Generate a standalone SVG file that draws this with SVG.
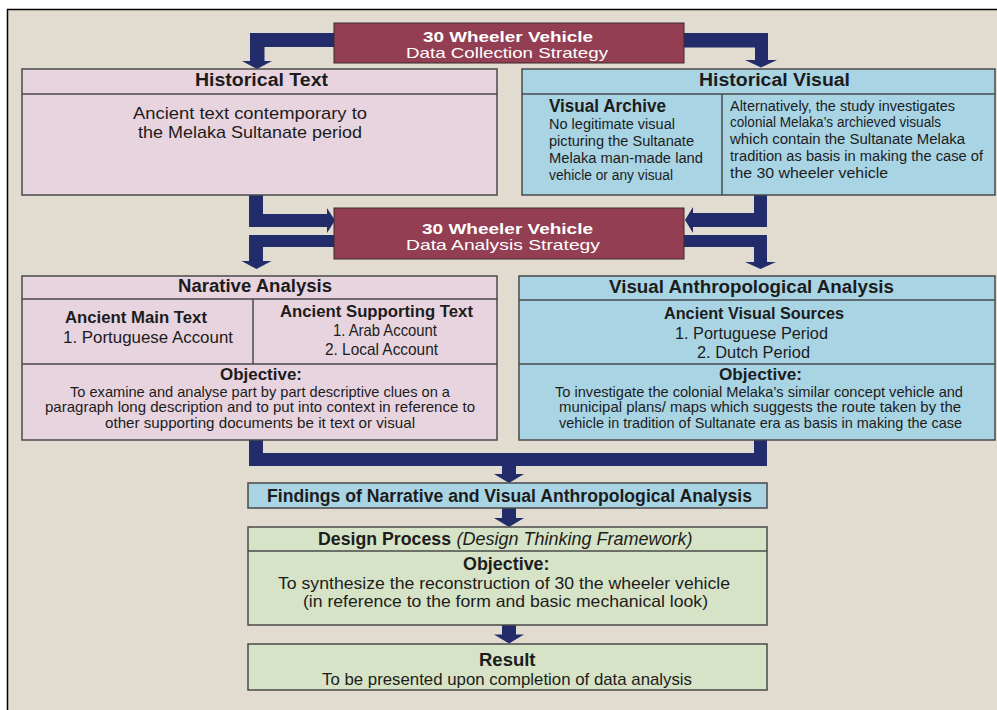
<svg xmlns="http://www.w3.org/2000/svg" width="997" height="710" viewBox="0 0 997 710">
<style>
text{font-family:"Liberation Sans",Arial,sans-serif;fill:#1c1c1c}
.b{font-weight:bold}
.i{font-style:italic}
.w{fill:#ffffff}
.pink{fill:#e8d4df;stroke:#4a4a4a;stroke-width:1.5}
.blue{fill:#a9d4e4;stroke:#4a4a4a;stroke-width:1.5}
.green{fill:#d7e3c6;stroke:#4a4a4a;stroke-width:1.5}
.maroon{fill:#933e52;stroke:#3a2a2e;stroke-width:1}
.sep{stroke:#4a4a4a;stroke-width:1.5;fill:none}
.arrow{fill:#232c6a}
</style>
<rect x="0" y="0" width="997" height="710" fill="#ffffff"/>
<rect x="7.5" y="9.5" width="1000" height="720" fill="#e2dbd0" stroke="#000000" stroke-width="1.5"/>

<g id="connectors">
  <polygon class="arrow" points="334,33 250,33 250,61 242,61 257,69 272,61 264.5,61 264.5,47 334,47"/>
  <polygon class="arrow" points="684,33 768,33 768,60 777,60 761,67.5 745,60 755,60 755,47.5 684,47.5"/>
  <polygon class="arrow" points="249,195 263,195 263,214 327,214 327,208 335,220.5 327,233 327,227 249,227"/>
  <polygon class="arrow" points="334,235 249,235 249,261 241.5,261 256.5,269 271.5,261 263,261 263,247 334,247"/>
  <polygon class="arrow" points="767,195 754,195 754,213 693,213 693,207 685,220 693,233 693,227 767,227"/>
  <polygon class="arrow" points="684,235 767,235 767,262 776,262 760.5,269 745,262 754,262 754,247 684,247"/>
  <polygon class="arrow" points="249,440 263,440 263,453 754,453 754,440 767,440 767,466 516,466 516,474 524,474 509,483 494,474 502,474 502,466 249,466"/>
  <polygon class="arrow" points="502,508 516,508 516,518 524,518 509,527 494,518 502,518"/>
  <polygon class="arrow" points="502,625 516,625 516,634.5 524,634.5 509,643.5 494,634.5 502,634.5"/>
</g>

<g id="collection-strategy">
  <rect class="maroon" x="334" y="23" width="350" height="40"/>
  <text class="b w" x="423" y="42" font-size="15" textLength="170" lengthAdjust="spacingAndGlyphs">30 Wheeler Vehicle</text>
  <text class="w" x="406" y="58" font-size="15" textLength="202" lengthAdjust="spacingAndGlyphs">Data Collection Strategy</text>
</g>

<g id="historical-text">
  <rect class="pink" x="22" y="69" width="475" height="126"/>
  <line class="sep" x1="22" y1="94" x2="497" y2="94"/>
  <text class="b" x="195" y="86" font-size="17.5" textLength="133" lengthAdjust="spacingAndGlyphs">Historical Text</text>
  <text x="133" y="119" font-size="17" textLength="234" lengthAdjust="spacingAndGlyphs">Ancient text contemporary to</text>
  <text x="138" y="138" font-size="17" textLength="224" lengthAdjust="spacingAndGlyphs">the Melaka Sultanate period</text>
</g>

<g id="historical-visual">
  <rect class="blue" x="522" y="69" width="473" height="126"/>
  <line class="sep" x1="522" y1="94" x2="995" y2="94"/>
  <line class="sep" x1="722" y1="94" x2="722" y2="195"/>
  <text class="b" x="699" y="86" font-size="17.5" textLength="151" lengthAdjust="spacingAndGlyphs">Historical Visual</text>
  <text class="b" x="549" y="111.5" font-size="17.5" textLength="117" lengthAdjust="spacingAndGlyphs">Visual Archive</text>
  <text x="549" y="128.5" font-size="15.5" textLength="126" lengthAdjust="spacingAndGlyphs">No legitimate visual</text>
  <text x="549" y="146" font-size="15.5" textLength="145" lengthAdjust="spacingAndGlyphs">picturing the Sultanate</text>
  <text x="549" y="163" font-size="15.5" textLength="154" lengthAdjust="spacingAndGlyphs">Melaka man-made land</text>
  <text x="549" y="179.5" font-size="15.5" textLength="124" lengthAdjust="spacingAndGlyphs">vehicle or any visual</text>
  <text x="730" y="110.5" font-size="15.5" textLength="225" lengthAdjust="spacingAndGlyphs">Alternatively, the study investigates</text>
  <text x="730" y="127" font-size="15.5" textLength="211" lengthAdjust="spacingAndGlyphs">colonial Melaka’s archieved visuals</text>
  <text x="730" y="144" font-size="15.5" textLength="235" lengthAdjust="spacingAndGlyphs">which contain the Sultanate Melaka</text>
  <text x="730" y="161" font-size="15.5" textLength="253" lengthAdjust="spacingAndGlyphs">tradition as basis in making the case of</text>
  <text x="730" y="177.5" font-size="15.5" textLength="158" lengthAdjust="spacingAndGlyphs">the 30 wheeler vehicle</text>
</g>

<g id="analysis-strategy">
  <rect class="maroon" x="334" y="208" width="350" height="51"/>
  <text class="b w" x="422" y="234" font-size="15" textLength="171" lengthAdjust="spacingAndGlyphs">30 Wheeler Vehicle</text>
  <text class="w" x="406" y="250" font-size="15" textLength="194" lengthAdjust="spacingAndGlyphs">Data Analysis Strategy</text>
</g>

<g id="narative-analysis">
  <rect class="pink" x="22" y="276" width="475" height="164"/>
  <line class="sep" x1="22" y1="299" x2="497" y2="299"/>
  <line class="sep" x1="22" y1="364" x2="497" y2="364"/>
  <line class="sep" x1="253" y1="299" x2="253" y2="364"/>
  <text class="b" x="178" y="292" font-size="17.5" textLength="154" lengthAdjust="spacingAndGlyphs">Narative Analysis</text>
  <text class="b" x="65" y="323" font-size="16.5" textLength="142" lengthAdjust="spacingAndGlyphs">Ancient Main Text</text>
  <text x="63" y="342.5" font-size="16.5" textLength="170" lengthAdjust="spacingAndGlyphs">1. Portuguese Account</text>
  <text class="b" x="280" y="317" font-size="16.5" textLength="193" lengthAdjust="spacingAndGlyphs">Ancient Supporting Text</text>
  <text x="333" y="336" font-size="16.5" textLength="104" lengthAdjust="spacingAndGlyphs">1. Arab Account</text>
  <text x="325" y="355" font-size="16.5" textLength="113" lengthAdjust="spacingAndGlyphs">2. Local Account</text>
  <text class="b" x="220" y="380" font-size="17" textLength="82" lengthAdjust="spacingAndGlyphs">Objective:</text>
  <text x="70" y="397" font-size="14.2" textLength="380" lengthAdjust="spacingAndGlyphs">To examine and analyse part by part descriptive clues on a</text>
  <text x="45" y="412.3" font-size="14.2" textLength="430" lengthAdjust="spacingAndGlyphs">paragraph long description and to put into context in reference to</text>
  <text x="105" y="427.6" font-size="14.2" textLength="310" lengthAdjust="spacingAndGlyphs">other supporting documents be it text or visual</text>
</g>

<g id="visual-anthropological-analysis">
  <rect class="blue" x="519" y="276" width="476" height="164"/>
  <line class="sep" x1="519" y1="300" x2="995" y2="300"/>
  <line class="sep" x1="519" y1="364" x2="995" y2="364"/>
  <text class="b" x="609" y="293" font-size="17.5" textLength="285" lengthAdjust="spacingAndGlyphs">Visual Anthropological Analysis</text>
  <text class="b" x="664" y="319" font-size="16.5" textLength="180" lengthAdjust="spacingAndGlyphs">Ancient Visual Sources</text>
  <text x="675" y="339" font-size="16.5" textLength="153" lengthAdjust="spacingAndGlyphs">1. Portuguese Period</text>
  <text x="697" y="358" font-size="16.5" textLength="113" lengthAdjust="spacingAndGlyphs">2. Dutch Period</text>
  <text class="b" x="719" y="379.5" font-size="17" textLength="83" lengthAdjust="spacingAndGlyphs">Objective:</text>
  <text x="555" y="396.5" font-size="14.2" textLength="408" lengthAdjust="spacingAndGlyphs">To investigate the colonial Melaka’s similar concept vehicle and</text>
  <text x="559" y="412" font-size="14.2" textLength="402" lengthAdjust="spacingAndGlyphs">municipal plans/ maps which suggests the route taken by the</text>
  <text x="559" y="427.5" font-size="14.2" textLength="403" lengthAdjust="spacingAndGlyphs">vehicle in tradition of Sultanate era as basis in making the case</text>
</g>

<g id="findings">
  <rect class="blue" x="248" y="483" width="519" height="25"/>
  <text class="b" x="267" y="501.5" font-size="17.5" textLength="485" lengthAdjust="spacingAndGlyphs">Findings of Narrative and Visual Anthropological Analysis</text>
</g>

<g id="design-process">
  <rect class="green" x="248" y="527" width="519" height="98"/>
  <line class="sep" x1="248" y1="551" x2="767" y2="551"/>
  <text class="b" x="318" y="545" font-size="18" textLength="133" lengthAdjust="spacingAndGlyphs">Design Process</text>
  <text class="i" x="456.5" y="545" font-size="18" textLength="236" lengthAdjust="spacingAndGlyphs">(Design Thinking Framework)</text>
  <text class="b" x="463" y="570" font-size="17.5" textLength="86.5" lengthAdjust="spacingAndGlyphs">Objective:</text>
  <text x="278" y="589" font-size="16.5" textLength="452" lengthAdjust="spacingAndGlyphs">To synthesize the reconstruction of 30 the wheeler vehicle</text>
  <text x="303" y="607" font-size="16.5" textLength="405" lengthAdjust="spacingAndGlyphs">(in reference to the form and basic mechanical look)</text>
</g>

<g id="result">
  <rect class="green" x="248" y="644" width="519" height="46"/>
  <text class="b" x="479" y="666" font-size="18" textLength="56.5" lengthAdjust="spacingAndGlyphs">Result</text>
  <text x="322" y="685" font-size="17" textLength="370" lengthAdjust="spacingAndGlyphs">To be presented upon completion of data analysis</text>
</g>
</svg>
